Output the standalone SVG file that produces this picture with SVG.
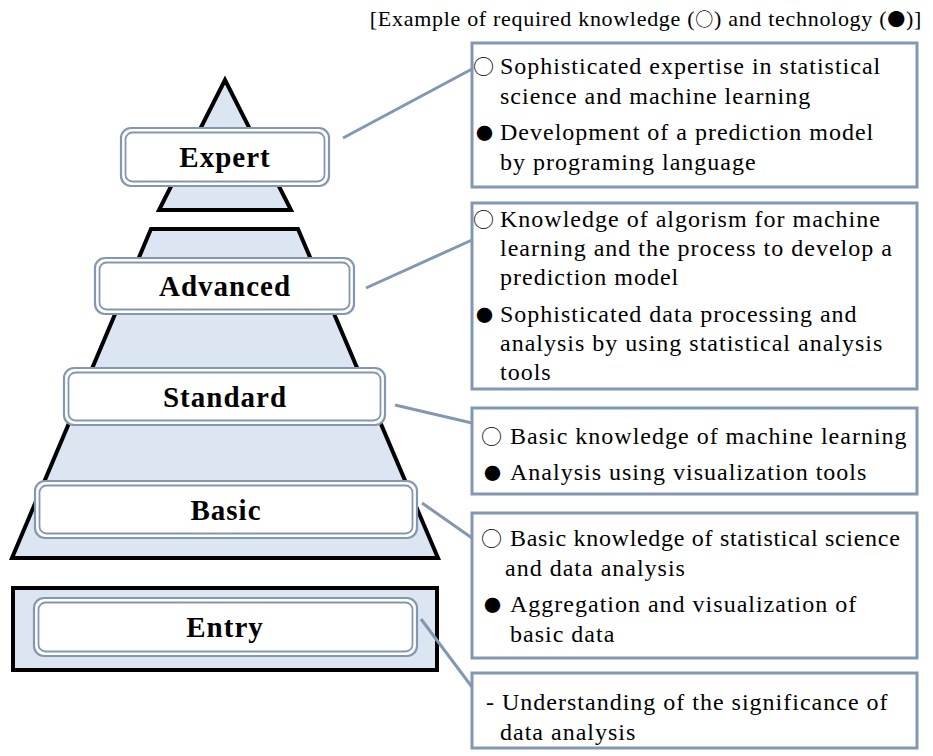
<svg xmlns="http://www.w3.org/2000/svg" width="933" height="756" viewBox="0 0 933 756">
<style>
.pyr{fill:#dce6f2;stroke:#000;stroke-width:4;stroke-linejoin:miter}
.lo{fill:#fff;stroke:#8497b0;stroke-width:2.2}
.li{fill:none;stroke:#8497b0;stroke-width:1.8}
.lt{font-family:"Liberation Serif","DejaVu Serif",serif;font-weight:bold;font-size:29px;letter-spacing:1px;text-anchor:middle;fill:#000}
.box{fill:#fff;stroke:#8497b0;stroke-width:3}
.t{font-family:"Liberation Serif","DejaVu Serif",serif;font-size:24px;letter-spacing:1px;fill:#000}
.bo{font-family:"Noto Sans CJK JP","DejaVu Sans",sans-serif;font-size:21px;fill:#000}
.bf{font-family:"Noto Sans CJK JP","DejaVu Sans",sans-serif;font-size:17px;fill:#000}
.hd{font-family:"Liberation Serif","DejaVu Serif",serif;font-size:22px;letter-spacing:0.7px;fill:#000;text-anchor:end}
.cj{font-family:"Noto Sans CJK JP","DejaVu Sans",sans-serif;font-size:18px}
.con{stroke:#8497b0;stroke-width:3;fill:none}
</style>

<text class="hd" x="922" y="26">[Example of required knowledge (<tspan class="cj">○</tspan>) and technology (<tspan class="cj">●</tspan>)]</text>

<g id="pyramid">
  <polygon class="pyr" points="225,80 291,210 159,210"/>
  <polygon class="pyr" points="151,229 298,229 438,558 12,558"/>
  <rect class="pyr" x="13" y="588" width="424" height="82"/>
</g>

<g id="connectors">
  <line class="con" x1="343" y1="138" x2="472" y2="69"/>
  <line class="con" x1="366" y1="288" x2="472" y2="240"/>
  <line class="con" x1="395" y1="405" x2="472" y2="423"/>
  <line class="con" x1="422" y1="503" x2="472" y2="538"/>
  <line class="con" x1="421" y1="619" x2="472" y2="687"/>
</g>

<g id="level-expert">
  <rect class="lo" x="121" y="128" width="208" height="58" rx="10"/>
  <rect class="li" x="125.5" y="132.5" width="199" height="49" rx="7"/>
  <text class="lt" x="225" y="167">Expert</text>
</g>
<g id="level-advanced">
  <rect class="lo" x="95" y="258" width="259" height="56" rx="10"/>
  <rect class="li" x="99.5" y="262.5" width="250" height="47" rx="7"/>
  <text class="lt" x="225" y="296">Advanced</text>
</g>
<g id="level-standard">
  <rect class="lo" x="64" y="368" width="321" height="57" rx="10"/>
  <rect class="li" x="68.5" y="372.5" width="312" height="48" rx="7"/>
  <text class="lt" x="225" y="407">Standard</text>
</g>
<g id="level-basic">
  <rect class="lo" x="35" y="481" width="382" height="57" rx="10"/>
  <rect class="li" x="39.5" y="485.5" width="373" height="48" rx="7"/>
  <text class="lt" x="226" y="520">Basic</text>
</g>
<g id="level-entry">
  <rect class="lo" x="34" y="598" width="383" height="58" rx="10"/>
  <rect class="li" x="38.5" y="602.5" width="374" height="49" rx="7"/>
  <text class="lt" x="225" y="637">Entry</text>
</g>

<g id="info-expert">
  <rect class="box" x="472" y="43" width="445" height="144"/>
  <text class="bo" x="473" y="74">○</text>
  <text class="t" x="500" y="74">Sophisticated expertise in statistical</text>
  <text class="t" x="500" y="104">science and machine learning</text>
  <text class="bf" x="476" y="140">●</text>
  <text class="t" x="500" y="140">Development of a prediction model</text>
  <text class="t" x="500" y="170">by programing language</text>
</g>

<g id="info-advanced">
  <rect class="box" x="472" y="203" width="445" height="186"/>
  <text class="bo" x="473" y="227">○</text>
  <text class="t" x="500" y="227">Knowledge of algorism for machine</text>
  <text class="t" x="500" y="256">learning and the process to develop a</text>
  <text class="t" x="500" y="285">prediction model</text>
  <text class="bf" x="476" y="322">●</text>
  <text class="t" x="500" y="322">Sophisticated data processing and</text>
  <text class="t" x="500" y="351">analysis by using statistical analysis</text>
  <text class="t" x="500" y="380">tools</text>
</g>

<g id="info-standard">
  <rect class="box" x="472" y="408" width="445" height="86"/>
  <text class="bo" x="481" y="444">○</text>
  <text class="t" x="510" y="444">Basic knowledge of machine learning</text>
  <text class="bf" x="484" y="480">●</text>
  <text class="t" x="510" y="480">Analysis using visualization tools</text>
</g>

<g id="info-basic">
  <rect class="box" x="472" y="513" width="445" height="145"/>
  <text class="bo" x="481" y="546">○</text>
  <text class="t" x="510" y="546" style="letter-spacing:0.7px">Basic knowledge of statistical science</text>
  <text class="t" x="505" y="576">and data analysis</text>
  <text class="bf" x="484" y="612">●</text>
  <text class="t" x="510" y="612">Aggregation and visualization of</text>
  <text class="t" x="510" y="642">basic data</text>
</g>

<g id="info-entry">
  <rect class="box" x="472" y="673" width="445" height="75"/>
  <text class="t" x="486" y="710">- Understanding of the significance of</text>
  <text class="t" x="500" y="740">data analysis</text>
</g>
</svg>
